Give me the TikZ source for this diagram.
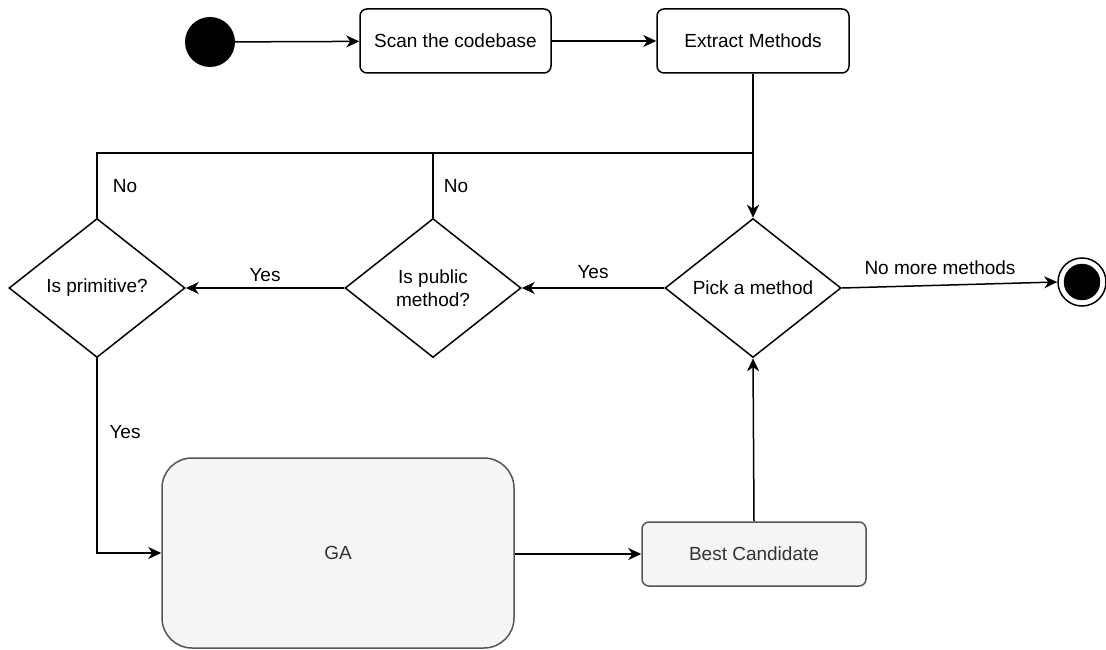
\documentclass[tikz,border=0pt]{standalone}
\usepackage{fontspec}
\setmainfont{Liberation Sans}
\usepackage{tikz}
\usetikzlibrary{shapes.geometric,arrows.meta}

\definecolor{boxfill}{HTML}{F5F5F5}
\definecolor{boxline}{HTML}{555555}
\definecolor{boxtext}{HTML}{333333}

\tikzset{
  flow/.style={line width=1.5pt, -{Stealth[length=13pt, width=12pt, inset=4pt]}},
  plain/.style={line width=1.5pt},
  stepbox/.style={draw, line width=1.5pt, rounded corners=7pt, minimum width=191pt, minimum height=64pt, inner sep=0pt},
  greybox/.style={stepbox, fill=boxfill, draw=boxline, text=boxtext},
  choice/.style={draw, diamond, line width=1.5pt, minimum width=176pt, minimum height=139pt, inner sep=0pt, aspect=1.27, align=center},
  lbl/.style={font=\fontsize{19}{23}\selectfont}
}

\begin{document}
\begin{tikzpicture}[x=1pt, y=-1pt, font=\fontsize{19}{23}\selectfont]
\useasboundingbox (0,0) rectangle (1106,650);

\node (start) at (210,42) [circle, fill=black, minimum size=50pt, inner sep=0pt] {};
\node (scan) at (455.5,41) [stepbox] {Scan the codebase};
\node (extract) at (753,41) [stepbox, minimum width=192pt] {Extract Methods};

\node (pick) at (753,288) [choice] {Pick a method};
\node (public) at (433,288) [choice] {Is public\\method?};
\node (prim) at (97,288) [choice] {Is primitive?};

\node (final) at (1082,282) [circle, draw, line width=1.5pt, minimum size=48pt, inner sep=0pt] {};
\filldraw (final.center) circle (18);

\node (ga) at (338,553) [greybox, rounded corners=30pt, minimum width=352pt, minimum height=190pt] {GA};
\node (best) at (754,554) [greybox, minimum width=224pt] {Best Candidate};

\coordinate (join) at (753,153);
\coordinate (midtop) at (433,153);
\coordinate (lefttop) at (97,153);

\draw[flow] (start) -- (scan);
\draw[flow] (scan) -- (extract);
\draw[flow] (extract.south) -- (pick.north);
\draw[flow] (pick.west) -- (public.east);
\draw[flow] (public.west) -- (prim.east);
\draw[plain] (public.north) -- (midtop) -- (join);
\draw[plain] (prim.north) -- (lefttop) -- (midtop);
\draw[flow] (prim.south) |- (ga.west);
\draw[flow] (ga.east |- best.west) -- (best.west);
\draw[flow] (best.north) -- (pick.south);
\draw[flow] (pick.east) -- (final.west);

\node (yespub) at (593,272) [lbl] {Yes};
\node (yesprim) at (265,275) [lbl] {Yes};
\node (nopub) at (456,186) [lbl] {No};
\node (noprim) at (125,186) [lbl] {No};
\node (yesga) at (125,432) [lbl] {Yes};
\node (nomore) at (940,268) [lbl] {No more methods};

\end{tikzpicture}
\end{document}
